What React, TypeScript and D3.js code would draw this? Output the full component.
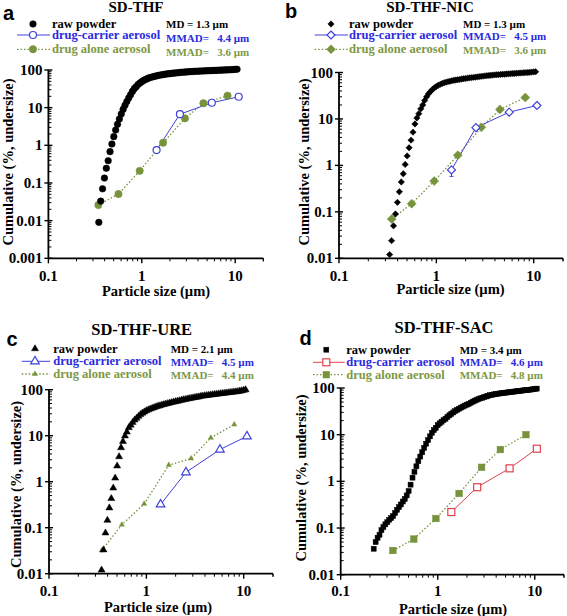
import React from 'react';
import * as d3 from 'd3';

// Laser-diffraction size bins (µm), shared by the raw-powder curves
const BINS = [0.2188,0.2291,0.2399,0.2512,0.2630,0.2754,0.2884,0.3020,0.3162,0.3311,0.3467,0.3631,0.3802,0.3981,0.4169,0.4365,0.4571,0.4786,0.5012,0.5248,0.5495,0.5754,0.6026,0.6310,0.6607,0.6918,0.7244,0.7586,0.7943,0.8318,0.8710,0.9120,0.9550,1.000,1.047,1.096,1.148,1.202,1.259,1.318,1.380,1.445,1.514,1.585,1.660,1.738,1.820,1.905,1.995,2.089,2.188,2.291,2.399,2.512,2.630,2.754,2.884,3.020,3.162,3.311,3.467,3.631,3.802,3.981,4.169,4.365,4.571,4.786,5.012,5.248,5.495,5.754,6.026,6.310,6.607,6.918,7.244,7.586,7.943,8.318,8.710,9.120,9.550,10.00,10.47,10.96];

// Raw powder cumulative % (undersize), starting at BINS[start]
const RAW_A_START = 10;
const RAW_A = [0.009,0.033,0.07,0.135,0.245,0.39,0.68,1.08,1.7,2.55,3.6,5.0,6.8,9,11.5,14.5,18,22,27,32,36,41,45,49,53,56,59,62,64,66,68,70,72,73.5,75,76.5,78,79,80,81.5,82.5,83.5,84.5,85.5,86.5,87.5,88,89,90,90.5,91,92,92.5,93,93.5,94,94.5,95,95.5,96,96.5,97,97.5,98,98.5,99,99.5,100,100.5,101,101.5,102,103,104,105];
const RAW_B_START = 9;
const RAW_B = [0.012,0.024,0.05,0.09,0.16,0.27,0.44,0.66,1.05,1.6,2.4,3.5,5.2,7.8,10.5,13,16.5,20,25,30,35,39,43,47,50,53,55.5,58,60,62,63.5,65,66.5,68,69,70,71,72.5,73.5,74.5,75.5,76.5,77.5,78.5,79.5,80.5,81.5,82.5,83.5,84.5,85.5,86.5,87.5,88,89,89.5,90,91,91.5,92,93,93.5,94,95,95.5,96,97,97.5,98,99,99.5,100,101,102,103,104];
const RAW_C_START = 10;
const RAW_C = [0.012,0.033,0.077,0.145,0.27,0.43,0.73,1.2,2.2,3.5,5.5,7.5,9.9,12,15,17,19.5,22,24,26.5,29,31,33,35,36.5,38,39.5,41,42.5,44,45,46.5,47.5,49,50,51.5,52.5,54,55,56.5,57.5,59,60.5,61.5,63,64,65.5,66.5,68,69,70,72,73,74,75,76,77,78,79,80,81,82,83,84,85,86,87,88,89,90,91.5,93,95,97,100];
const RAW_D_START = 0;
const RAW_D = [0.036,0.05,0.062,0.072,0.09,0.105,0.12,0.133,0.15,0.163,0.18,0.21,0.245,0.28,0.32,0.37,0.42,0.5,0.62,0.85,1.2,1.6,2.1,2.7,3.4,4.2,5.2,6.4,7.6,9.2,11,12.5,14,16,17.5,19,20.5,22,24,26,28,30,32,34,36,38,40,42,44,46,48.5,51,53.5,56,58,60,62,64,66,68,70,71.5,73,74.5,75.5,76.5,77.5,78.5,79.5,80.5,81.5,82.5,83.5,84.5,85.5,86.5,87.5,88.5,89.5,90.5,91.5,92.5,94,95.5,97];

// Drug-carrier aerosol (impactor)
const A_CARRIER_X = [1.44, 2.56, 5.62, 10.9];
const A_CARRIER_Y = [0.75, 6.7, 13.5, 19.5];
const B_CARRIER_X = [1.43, 2.55, 5.6, 10.8];
const B_CARRIER_Y = [0.8, 6.5, 14, 19.5];
const B_CARRIER_ERR = [0.22, 0, 0, 0];
const C_CARRIER_X = [1.40, 2.55, 5.7, 10.8];
const C_CARRIER_Y = [0.32, 1.6, 5.0, 9.7];
const D_CARRIER_X = [1.38, 2.55, 5.5, 10.5];
const D_CARRIER_Y = [0.22, 0.75, 1.9, 5.0];

// Drug alone aerosol (impactor)
const A_ALONE_X = [0.343, 0.563, 0.95, 1.69, 2.90, 4.57, 8.28];
const A_ALONE_Y = [0.026, 0.051, 0.21, 1.17, 5.2, 13.1, 20.8];
const B_ALONE_X = [0.348, 0.558, 0.95, 1.66, 2.9, 4.5, 8.2];
const B_ALONE_Y = [0.07, 0.15, 0.46, 1.65, 6.6, 16, 29];
const C_ALONE_X = [0.348, 0.56, 0.95, 1.7, 2.88, 4.6, 8.0];
const C_ALONE_Y = [0.032, 0.116, 0.33, 2.3, 3.2, 9.0, 17.5];
const D_ALONE_X = [0.345, 0.566, 0.957, 1.66, 2.83, 4.42, 8.1];
const D_ALONE_Y = [0.033, 0.058, 0.16, 0.55, 2.0, 4.8, 10];

const TITLES = ['SD-THF', 'SD-THF-NIC', 'SD-THF-URE', 'SD-THF-SAC'];
const LETTERS = ['a', 'b', 'c', 'd'];
const MD_VALUES = ['1.3', '1.3', '2.1', '3.4'];
const MMAD_CARRIER = ['4.4', '4.5', '4.5', '4.6'];
const MMAD_ALONE = ['3.6', '3.6', '4.4', '4.8'];
const LEGEND_LABELS = ['raw powder', 'drug-carrier aerosol', 'drug alone aerosol'];
const X_TICKS = [0.1, 1, 10];
const X_TITLE = 'Particle size (µm)';
const Y_TITLE = 'Cumulative (%, undersize)';

const BLUE = '#4040dc';
const GREEN = '#77933c';
const RED = '#e0424e';
const TXT_BLUE = '#2a2ae0';
const TXT_GREEN = '#7d9845';
const SERIF = 'Liberation Serif, Times New Roman, serif';
const SANS = 'Liberation Sans, Arial, sans-serif';
const NB = '\u00a0';

type Shape = 'circle' | 'diamond' | 'triangle' | 'square';

function Marker({ shape, x, y, s, fill, stroke, sw = 1 }: { shape: Shape; x: number; y: number; s: number; fill: string; stroke: string; sw?: number }) {
  if (shape === 'circle') return <circle cx={x} cy={y} r={s} fill={fill} stroke={stroke} strokeWidth={sw} />;
  if (shape === 'square') return <rect x={x - s} y={y - s} width={2 * s} height={2 * s} fill={fill} stroke={stroke} strokeWidth={sw} />;
  if (shape === 'diamond') return <path d={`M${x},${y - s}L${x + s},${y}L${x},${y + s}L${x - s},${y}Z`} fill={fill} stroke={stroke} strokeWidth={sw} />;
  return <path d={`M${x},${y - s * 1.15}L${x + s},${y + s * 0.58}L${x - s},${y + s * 0.58}Z`} fill={fill} stroke={stroke} strokeWidth={sw} />;
}

interface PanelCfg {
  idx: number; ox: number; oy: number;
  x0: number; x1: number; yTop: number; yBot: number; yMin: number;
  shape: Shape; rawS: number; carS: number; aloS: number; carColor: string;
  rawStart: number; raw: number[];
  carX: number[]; carY: number[]; carErr?: number[];
  aloX: number[]; aloY: number[];
  titleX: number; titleY: number; titleSize: number; letterX: number; letterY: number;
  legMarkerX: number; legLine: [number, number]; legTextX: number; legRows: number[];
  rightX: number; rightBase: number[];
  yTitleX: number; yTitleY: number; xTitleX: number; xTitleY: number; xTickY: number;
}

function Panel({ c }: { c: PanelCfg }) {
  const x = d3.scaleLog().domain([0.1, 20]).range([c.x0, c.x1]);
  const y = d3.scaleLog().domain([c.yMin, 100]).range([c.yBot, c.yTop]);
  const decades: number[] = [];
  for (let v = c.yMin; v <= 100.0001; v *= 10) decades.push(+v.toPrecision(1));
  const yMinor: number[] = [];
  decades.slice(0, -1).forEach(d => { for (let k = 2; k <= 9; k++) yMinor.push(d * k); });
  const xMinor: number[] = [];
  [0.1, 1, 10].forEach(d => { for (let k = 2; k <= 9; k++) if (d * k <= 20) xMinor.push(d * k); });
  xMinor.push(20);
  const line = d3.line<[number, number]>().x(d => x(d[0])).y(d => y(d[1]));
  const car: [number, number][] = c.carX.map((v, i) => [v, c.carY[i]]);
  const alo: [number, number][] = c.aloX.map((v, i) => [v, c.aloY[i]]);
  const raw: [number, number][] = c.raw.map((v, i) => [BINS[c.rawStart + i], v]);
  const carFill = '#fff';
  const [r1, r2, r3] = c.legRows;
  return (
    <g transform={`translate(${c.ox},${c.oy})`}>
      <text x={c.letterX} y={c.letterY} fontFamily={SANS} fontWeight="bold" fontSize={20} fill="#000">{LETTERS[c.idx]}</text>
      <text x={c.titleX} y={c.titleY} fontFamily={SERIF} fontWeight="bold" fontSize={c.titleSize} textAnchor="middle" fill="#000">{TITLES[c.idx]}</text>
      {/* legend */}
      <g fontFamily={SERIF} fontWeight="bold" fontSize={12.5}>
        <Marker shape={c.shape} x={c.legMarkerX} y={r1} s={c.rawS} fill="#000" stroke="#000" sw={0.5} />
        <text x={c.legTextX} y={r1 + 4} fill="#000">{LEGEND_LABELS[0]}</text>
        <line x1={c.legLine[0]} x2={c.legLine[1]} y1={r2} y2={r2} stroke={c.carColor} strokeWidth={1} />
        <Marker shape={c.shape} x={c.legMarkerX} y={r2} s={c.carS} fill={carFill} stroke={c.carColor} sw={1.2} />
        <text x={c.legTextX} y={r2 + 4} fill={TXT_BLUE}>{LEGEND_LABELS[1]}</text>
        <line x1={c.legLine[0]} x2={c.legLine[1]} y1={r3} y2={r3} stroke={GREEN} strokeWidth={1.3} strokeDasharray="1.5,2" />
        <Marker shape={c.shape} x={c.legMarkerX} y={r3} s={c.aloS} fill={GREEN} stroke={GREEN} sw={0.5} />
        <text x={c.legTextX} y={r3 + 4} fill={TXT_GREEN}>{LEGEND_LABELS[2]}</text>
      </g>
      <g fontFamily={SERIF} fontWeight="bold" fontSize={11}>
        <text x={c.rightX} y={c.rightBase[0]} fill="#000">{`MD = ${MD_VALUES[c.idx]} µm`}</text>
        <text x={c.rightX} y={c.rightBase[1]} fill={TXT_BLUE}>{`MMAD=${NB}${NB}${NB}${MMAD_CARRIER[c.idx]} µm`}</text>
        <text x={c.rightX} y={c.rightBase[2]} fill={TXT_GREEN}>{`MMAD=${NB}${NB}${NB}${MMAD_ALONE[c.idx]} µm`}</text>
      </g>
      {/* axes */}
      <g stroke="#000">
        <line x1={c.x0} x2={c.x0} y1={c.yTop} y2={c.yBot} strokeWidth={1.8} />
        <line x1={c.x0} x2={c.x1} y1={c.yBot} y2={c.yBot} strokeWidth={1.8} />
        {decades.map(d => <line key={'ym' + d} x1={c.x0 - 4} x2={c.x0 + 4} y1={y(d)} y2={y(d)} strokeWidth={1.4} />)}
        {yMinor.map(d => <line key={'yn' + d} x1={c.x0} x2={c.x0 + 3} y1={y(d)} y2={y(d)} strokeWidth={1} />)}
        {X_TICKS.map(d => <line key={'xm' + d} x1={x(d)} x2={x(d)} y1={c.yBot} y2={c.yBot + 5} strokeWidth={1.4} />)}
        {xMinor.map(d => <line key={'xn' + d} x1={x(d)} x2={x(d)} y1={c.yBot} y2={c.yBot + 3} strokeWidth={1} />)}
      </g>
      <g fontFamily={SERIF} fontWeight="bold" fontSize={15} fill="#000">
        {decades.map(d => <text key={'yl' + d} x={c.x0 - 6} y={y(d) + 5} textAnchor="end">{String(d)}</text>)}
        {X_TICKS.map(d => <text key={'xl' + d} x={x(d)} y={c.xTickY} textAnchor="middle">{String(d)}</text>)}
      </g>
      <g fontFamily={SERIF} fontWeight="bold" fontSize={14.5} fill="#000">
        <text x={c.xTitleX} y={c.xTitleY} textAnchor="middle">{X_TITLE}</text>
        <text transform={`translate(${c.yTitleX},${c.yTitleY}) rotate(-90)`} textAnchor="middle">{Y_TITLE}</text>
      </g>
      {/* series */}
      <path d={line(alo) || ''} fill="none" stroke={GREEN} strokeWidth={1.3} strokeDasharray="1.5,2" />
      <path d={line(car) || ''} fill="none" stroke={c.carColor} strokeWidth={1} />
      {c.carErr && c.carErr.map((e, i) => e > 0 ? (
        <g key={'err' + i} stroke={c.carColor} strokeWidth={1}>
          <line x1={x(c.carX[i])} x2={x(c.carX[i])} y1={y(c.carY[i])} y2={y(c.carY[i] - e)} />
          <line x1={x(c.carX[i]) - 2} x2={x(c.carX[i]) + 2} y1={y(c.carY[i] - e)} y2={y(c.carY[i] - e)} />
        </g>) : null)}
      {alo.map((d, i) => <Marker key={'a' + i} shape={c.shape} x={x(d[0])} y={y(d[1])} s={c.aloS} fill={GREEN} stroke={GREEN} sw={0.5} />)}
      {car.map((d, i) => <Marker key={'c' + i} shape={c.shape} x={x(d[0])} y={y(d[1])} s={c.carS} fill={carFill} stroke={c.carColor} sw={1.2} />)}
      {raw.map((d, i) => <Marker key={'r' + i} shape={c.shape} x={x(d[0])} y={y(d[1])} s={c.rawS} fill="#000" stroke="#000" sw={0.5} />)}
    </g>
  );
}

const PANELS: PanelCfg[] = [
  {
    idx: 0, ox: 0, oy: 0, x0: 48.4, x1: 263.3, yTop: 70, yBot: 258.3, yMin: 0.001,
    shape: 'circle', rawS: 3.3, carS: 3.5, aloS: 3.7, carColor: BLUE,
    rawStart: RAW_A_START, raw: RAW_A, carX: A_CARRIER_X, carY: A_CARRIER_Y, aloX: A_ALONE_X, aloY: A_ALONE_Y,
    titleX: 136, titleY: 11.5, titleSize: 15, letterX: 3, letterY: 20,
    legMarkerX: 33, legLine: [17, 50], legTextX: 52, legRows: [24, 35, 49.3],
    rightX: 166, rightBase: [28, 41.5, 56],
    yTitleX: 12.5, yTitleY: 162, xTitleX: 156, xTitleY: 296, xTickY: 281,
  },
  {
    idx: 1, ox: 283, oy: 0, x0: 56, x1: 280, yTop: 72.5, yBot: 258.3, yMin: 0.01,
    shape: 'diamond', rawS: 3.2, carS: 4, aloS: 4.5, carColor: BLUE,
    rawStart: RAW_B_START, raw: RAW_B, carX: B_CARRIER_X, carY: B_CARRIER_Y, carErr: B_CARRIER_ERR, aloX: B_ALONE_X, aloY: B_ALONE_Y,
    titleX: 147, titleY: 11.5, titleSize: 15, letterX: 2, letterY: 18,
    legMarkerX: 48, legLine: [31.7, 65], legTextX: 66, legRows: [24, 35, 49.3],
    rightX: 180, rightBase: [27.5, 40, 53.5],
    yTitleX: 26, yTitleY: 162, xTitleX: 167.5, xTitleY: 294, xTickY: 281,
  },
  {
    idx: 2, ox: 0, oy: 308, x0: 49, x1: 273, yTop: 81.7, yBot: 265.7, yMin: 0.01,
    shape: 'triangle', rawS: 3.5, carS: 4.3, aloS: 2.6, carColor: BLUE,
    rawStart: RAW_C_START, raw: RAW_C, carX: C_CARRIER_X, carY: C_CARRIER_Y, aloX: C_ALONE_X, aloY: C_ALONE_Y,
    titleX: 141.7, titleY: 26.6, titleSize: 16.5, letterX: 6.5, letterY: 38.3,
    legMarkerX: 35, legLine: [21.7, 50], legTextX: 53.3, legRows: [40.7, 53.3, 66],
    rightX: 170.7, rightBase: [44.5, 58, 70.5],
    yTitleX: 21, yTitleY: 176.5, xTitleX: 158, xTitleY: 304, xTickY: 288,
  },
  {
    idx: 3, ox: 283, oy: 308, x0: 57.7, x1: 281, yTop: 80, yBot: 266.7, yMin: 0.01,
    shape: 'square', rawS: 2.5, carS: 3.5, aloS: 3.3, carColor: RED,
    rawStart: RAW_D_START, raw: RAW_D, carX: D_CARRIER_X, carY: D_CARRIER_Y, aloX: D_ALONE_X, aloY: D_ALONE_Y,
    titleX: 161, titleY: 25, titleSize: 16.5, letterX: 16.5, letterY: 37,
    legMarkerX: 43.3, legLine: [30, 61.7], legTextX: 63.3, legRows: [41.7, 54.3, 66.7],
    rightX: 176.7, rightBase: [45.5, 58, 70.5],
    yTitleX: 22.5, yTitleY: 170, xTitleX: 170, xTitleY: 305.5, xTickY: 288.3,
  },
];

export default function App() {
  return (
    <svg width={567} height={616} style={{ position: 'absolute', left: 0, top: 0, background: '#fff' }}>
      <rect width={567} height={616} fill="#fff" />
      {PANELS.map(p => <Panel key={p.idx} c={p} />)}
    </svg>
  );
}
